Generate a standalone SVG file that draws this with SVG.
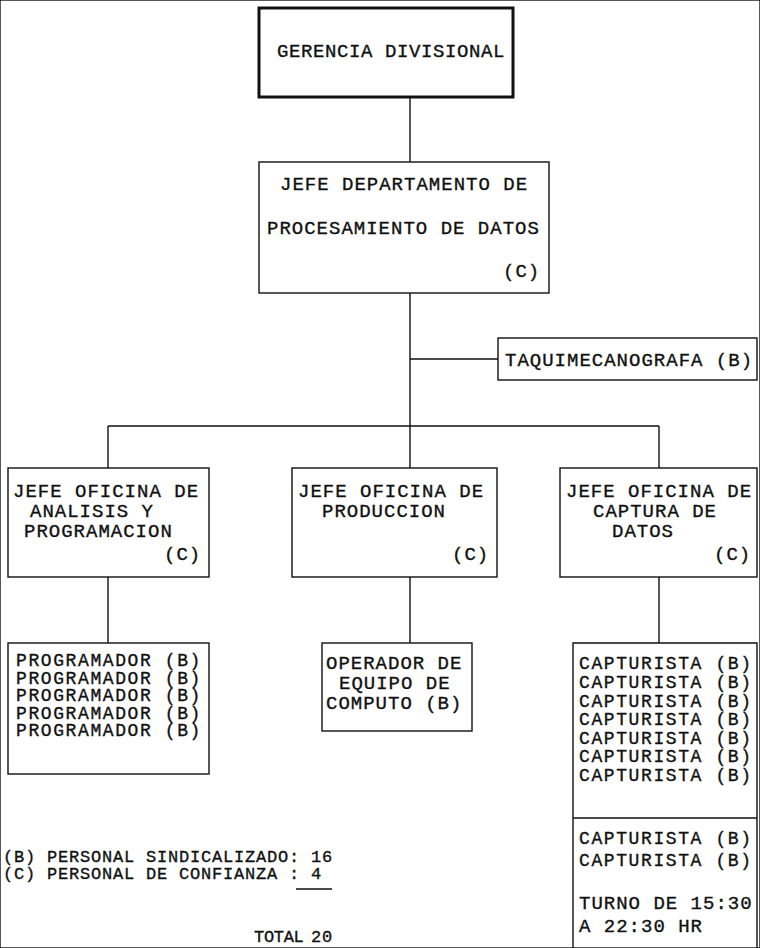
<svg xmlns="http://www.w3.org/2000/svg" width="760" height="948" viewBox="0 0 760 948">
<style>
rect{fill:none;stroke:#111;stroke-width:1.4}
.thick{stroke-width:3}
line,path{stroke:#111;stroke-width:1.4;fill:none}
text{font-family:"Liberation Mono","Courier New",monospace;font-size:19px;letter-spacing:1px;fill:#111;stroke:#111;stroke-width:0.35}
.ls{font-size:18px;letter-spacing:1.6px}
.lg{font-size:17px;letter-spacing:0.8px}
</style>
<rect width="760" height="948" fill="#fff" stroke="none"/>
<g id="connectors">
<line x1="410" y1="97" x2="410" y2="162"/>
<line x1="410" y1="293" x2="410" y2="426"/>
<line x1="410" y1="359" x2="498" y2="359"/>
<line x1="108" y1="426" x2="659" y2="426"/>
<line x1="108" y1="426" x2="108" y2="468"/>
<line x1="410" y1="426" x2="410" y2="468"/>
<line x1="659" y1="426" x2="659" y2="468"/>
<line x1="108" y1="577" x2="108" y2="643"/>
<line x1="410" y1="577" x2="410" y2="643"/>
<line x1="659" y1="577" x2="659" y2="643"/>
</g>
<g id="gerencia">
<rect class="thick" x="259" y="8" width="254" height="89"/>
<text x="277" y="57" style="letter-spacing:0.6px">GERENCIA DIVISIONAL</text>
</g>
<g id="jefe-depto">
<rect x="259" y="162" width="290" height="131"/>
<text x="280" y="190">JEFE DEPARTAMENTO DE</text>
<text x="267" y="234">PROCESAMIENTO DE DATOS</text>
<text x="503" y="277">(C)</text>
</g>
<g id="taquimecanografa">
<rect x="498" y="338" width="259" height="42"/>
<text x="505" y="366">TAQUIMECANOGRAFA (B)</text>
</g>
<g id="jefe-analisis">
<rect x="8" y="468" width="201" height="109"/>
<text x="13" y="497">JEFE OFICINA DE</text>
<text x="30" y="517">ANALISIS Y</text>
<text x="24" y="537">PROGRAMACION</text>
<text x="164" y="560">(C)</text>
</g>
<g id="jefe-produccion">
<rect x="292" y="468" width="205" height="109"/>
<text x="298" y="497">JEFE OFICINA DE</text>
<text x="322" y="517">PRODUCCION</text>
<text x="452" y="560">(C)</text>
</g>
<g id="jefe-captura">
<rect x="560" y="468" width="197" height="109"/>
<text x="566" y="497">JEFE OFICINA DE</text>
<text x="593" y="517">CAPTURA DE</text>
<text x="612" y="537">DATOS</text>
<text x="714" y="560">(C)</text>
</g>
<g id="programadores">
<rect x="8" y="643" width="201" height="131"/>
<text class="ls" x="16" y="666">PROGRAMADOR (B)</text>
<text class="ls" x="16" y="683.5">PROGRAMADOR (B)</text>
<text class="ls" x="16" y="701">PROGRAMADOR (B)</text>
<text class="ls" x="16" y="718.5">PROGRAMADOR (B)</text>
<text class="ls" x="16" y="736">PROGRAMADOR (B)</text>
</g>
<g id="operador">
<rect x="322" y="643" width="150" height="88"/>
<text x="326" y="669">OPERADOR DE</text>
<text x="339" y="689">EQUIPO DE</text>
<text x="326" y="709">COMPUTO (B)</text>
</g>
<g id="capturistas">
<path d="M573 948V643H757V948M573 818H757"/>
<text class="ls" x="579" y="669">CAPTURISTA (B)</text>
<text class="ls" x="579" y="688">CAPTURISTA (B)</text>
<text class="ls" x="579" y="707">CAPTURISTA (B)</text>
<text class="ls" x="579" y="725">CAPTURISTA (B)</text>
<text class="ls" x="579" y="744">CAPTURISTA (B)</text>
<text class="ls" x="579" y="762">CAPTURISTA (B)</text>
<text class="ls" x="579" y="781">CAPTURISTA (B)</text>
<text class="ls" x="579" y="844">CAPTURISTA (B)</text>
<text class="ls" x="579" y="866">CAPTURISTA (B)</text>
<text x="579" y="909">TURNO DE 15:30</text>
<text x="579" y="932">A 22:30 HR</text>
</g>
<g id="legend">
<text class="lg" x="3" y="862">(B) PERSONAL SINDICALIZADO: 16</text>
<text class="lg" x="3" y="879">(C) PERSONAL DE CONFIANZA :  4</text>
<line x1="296" y1="889" x2="332" y2="889"/>
<text class="lg" x="254" y="942" style="letter-spacing:-0.3px">TOTAL</text>
<text class="lg" x="311" y="942">20</text>
</g>
</svg>
